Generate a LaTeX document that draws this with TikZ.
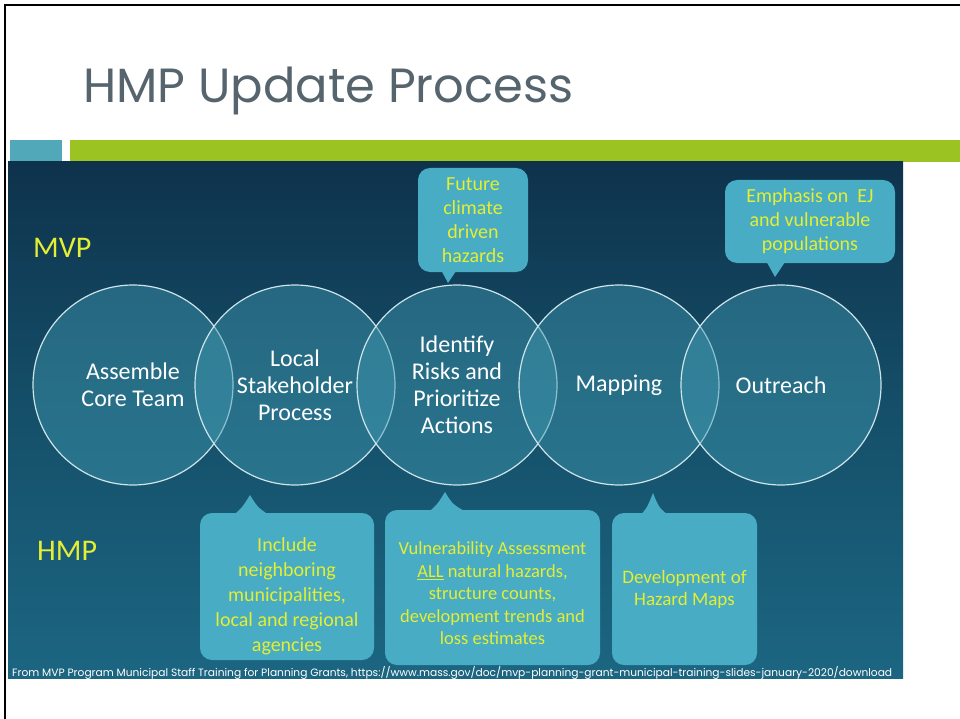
\documentclass[tikz,border=0pt]{standalone}
\usepackage{fontspec}
\setmainfont{Carlito}
\newfontfamily\slidefont{Poppins}
\usetikzlibrary{positioning}
\definecolor{TitleGray}{RGB}{86,100,110}
\definecolor{BarGreen}{RGB}{155,196,35}
\definecolor{BarTeal}{RGB}{80,168,184}
\definecolor{PanelTop}{RGB}{14,50,76}
\definecolor{PanelMid}{RGB}{21,80,106}
\definecolor{PanelBot}{RGB}{28,102,130}
\definecolor{RingFill}{RGB}{64,152,176}
\definecolor{RingLine}{RGB}{205,228,235}
\definecolor{NoteFill}{RGB}{72,172,196}
\definecolor{NoteText}{RGB}{228,238,50}

\tikzset{
  stage/.style={circle, minimum size=200pt, inner sep=0pt, draw=RingLine, line width=1.2pt,
    fill=RingFill, fill opacity=0.45, text opacity=1, text=white,
    font=\fontsize{24}{27}\selectfont, align=center},
  notebox/.style={rectangle, rounded corners=12pt, fill=NoteFill, inner sep=0pt},
  notetext/.style={text=NoteText, align=center, inner sep=0pt},
  tag/.style={text=NoteText, font=\fontsize{30}{32}\selectfont, anchor=base west, inner sep=0pt},
}

\begin{document}
\begin{tikzpicture}[x=1pt, y=-1pt]
    \useasboundingbox (0,0) rectangle (960,719);
    \fill[white] (0,0) rectangle (960,719);

%   slide frame and bars
    \draw[line width=2pt, black] (5,719) -- (5,5) -- (960,5);
    \node[anchor=base west, inner sep=0pt, text=TitleGray,
          font=\slidefont\fontsize{48}{54}\selectfont] (title) at (83,103) {HMP Update Process};
    \fill[BarTeal] (10,140) rectangle (62,162);
    \fill[BarGreen] (70,140) rectangle (960,162);

%   picture panel
    \shade[top color=PanelTop, bottom color=PanelBot, middle color=PanelMid] (8,162) rectangle (903,678);

    \node[tag] (mvp) at (33,257) {MVP};
    \node[tag] (hmp) at (37,560) {HMP};

%   the five stages
    \foreach \i/\x/\t in {1/133/{Assemble\\Core Team},
                          2/295/{Local\\Stakeholder\\Process},
                          3/457/{Identify\\Risks and\\Prioritize\\Actions},
                          4/619/{Mapping},
                          5/781/{Outreach}} {
        \node[stage] (c\i) at (\x,385) {\t};
    }

%   MVP notes
    \node[notebox, minimum width=110pt, minimum height=104pt] (mvpA) at (473,220) {};
    \fill[NoteFill] (440,268) -- (448,283) -- (458,268) -- cycle;
    \node[notetext, font=\fontsize{20}{24}\selectfont] (mvpAtext) at (mvpA) {Future\\climate\\driven\\hazards};

    \node[notebox, minimum width=170pt, minimum height=83pt] (mvpB) at (810,221.5) {};
    \fill[NoteFill] (765,259) -- (775,277) -- (787,259) -- cycle;
    \node[notetext, font=\fontsize{20}{24}\selectfont] (mvpBtext) at (mvpB) {Emphasis on~ EJ\\and vulnerable\\populations};

%   HMP notes
    \node[notebox, minimum width=174pt, minimum height=147pt] (hmpA) at (287,586.5) {};
    \fill[NoteFill] (230,518) .. controls (242,508) .. (250,495) .. controls (258,508) .. (274,518) -- cycle;
    \node[notetext, font=\fontsize{20}{25}\selectfont, yshift=-10pt] (hmpAtext) at (hmpA)
        {Include\\neighboring\\municipalities,\\local and regional\\agencies};

    \node[notebox, minimum width=215pt, minimum height=155pt] (hmpB) at (492.5,587.5) {};
    \fill[NoteFill] (425,515) .. controls (437,505) .. (445,492) .. controls (453,505) .. (472,515) -- cycle;
    \node[notetext, font=\fontsize{18.5}{22.5}\selectfont, yshift=-6pt] (hmpBtext) at (hmpB)
        {Vulnerability Assessment\\\underline{ALL} natural hazards,\\structure counts,\\development trends and\\loss estimates};

    \node[notebox, minimum width=145pt, minimum height=152pt] (hmpC) at (684.5,589) {};
    \fill[NoteFill] (638,518) .. controls (647,508) .. (653,493) .. controls (659,508) .. (672,518) -- cycle;
    \node[notetext, font=\fontsize{19}{22}\selectfont] (hmpCtext) at (hmpC) {Development of\\Hazard Maps};

%   source line
    \node[anchor=base west, inner sep=0pt, text=white, font=\slidefont\fontsize{10.65}{12}\selectfont] (source) at (12,676)
        {From MVP Program Municipal Staff Training for Planning Grants, https://www.mass.gov/doc/mvp-planning-grant-municipal-training-slides-january-2020/download};
\end{tikzpicture}
\end{document}
